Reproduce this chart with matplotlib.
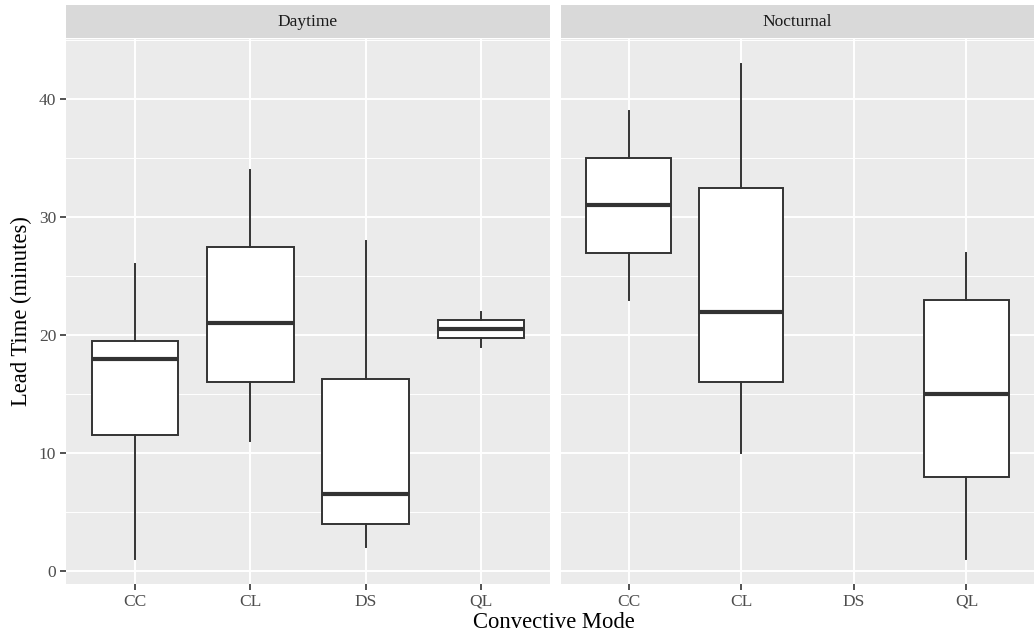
import matplotlib
matplotlib.use("Agg")
import matplotlib.pyplot as plt

plt.rcParams['font.family'] = ['Liberation Serif', 'DejaVu Serif']

modes = ["CC", "CL", "DS", "QL"]
panels = ["Daytime", "Nocturnal"]

# five-number summaries (low whisker, Q1, median, Q3, high whisker)
day_low = [1, 11, 2, 19]
day_q1 = [11.5, 16, 4, 19.75]
day_med = [18, 21, 6.5, 20.5]
day_q3 = [19.5, 27.5, 16.25, 21.25]
day_high = [26, 34, 28, 22]

# no DS storms at night
night_modes = ["CC", "CL", "QL"]
night_low = [23, 10, 1]
night_q1 = [27, 16, 8]
night_med = [31, 22, 15]
night_q3 = [35, 32.5, 23]
night_high = [39, 43, 27]

yticks = [0, 10, 20, 30, 40]


def stats(names, lo, q1, med, q3, hi):
    out = []
    for i in range(len(names)):
        out.append(dict(whislo=lo[i], q1=q1[i], med=med[i], q3=q3[i], whishi=hi[i], fliers=[]))
    return out


W, H = 1034, 638
fig = plt.figure(figsize=(W / 100, H / 100), dpi=100)

panel_px = [(66, 550), (561, 1034)]
top, bot = 39, 584
strip_top = 5

data = {
    "Daytime": (modes, stats(modes, day_low, day_q1, day_med, day_q3, day_high)),
    "Nocturnal": (night_modes, stats(night_modes, night_low, night_q1, night_med, night_q3, night_high)),
}

grey = "#EBEBEB"
for k, name in enumerate(panels):
    x0, x1 = panel_px[k]
    ax = fig.add_axes([x0 / W, (H - bot) / H, (x1 - x0) / W, (bot - top) / H])
    ax.set_facecolor(grey)
    names, st = data[name]
    pos = [modes.index(n) + 1 for n in names]
    ax.bxp(st, positions=pos, widths=0.75, showfliers=False, showcaps=False,
           patch_artist=True,
           boxprops=dict(facecolor="white", edgecolor="#333333", linewidth=1.4),
           whiskerprops=dict(color="#333333", linewidth=1.4),
           medianprops=dict(color="#333333", linewidth=3.0, solid_capstyle="butt"),
           zorder=3)
    ax.set_xlim(0.4, 4.6)
    ax.set_ylim(-1.1, 45.1)
    ax.set_xticks(range(1, 5))
    ax.set_xticklabels(modes)
    ax.set_yticks(yticks)
    ax.set_yticks([5, 15, 25, 35, 45], minor=True)
    ax.grid(True, which="major", color="white", linewidth=1.4, zorder=0)
    ax.grid(True, which="minor", axis="y", color="white", linewidth=0.7, zorder=0)
    ax.set_axisbelow(True)
    for s in ax.spines.values():
        s.set_visible(False)
    ax.tick_params(axis="both", which="major", color="#333333", length=4, width=1.2,
                   labelcolor="#4D4D4D", labelsize=12.5, pad=3)
    ax.tick_params(axis="both", which="minor", length=0)
    if k > 0:
        ax.tick_params(axis="y", left=False, labelleft=False)
    else:
        ax.set_ylabel("Lead Time (minutes)", fontsize=16.3, color="black", labelpad=5)

    sax = fig.add_axes([x0 / W, (H - top + 1) / H, (x1 - x0) / W, (top - 1 - strip_top) / H])
    sax.set_facecolor("#D9D9D9")
    sax.set_xticks([])
    sax.set_yticks([])
    for s in sax.spines.values():
        s.set_visible(False)
    sax.text(0.5, 0.5, name, ha="center", va="center", fontsize=12.5, color="#1A1A1A",
             transform=sax.transAxes)

fig.text(554 / W, 1 - 623 / H, "Convective Mode", ha="center", va="center", fontsize=16.3)

fig.savefig("out.png", dpi=100, facecolor="white")
